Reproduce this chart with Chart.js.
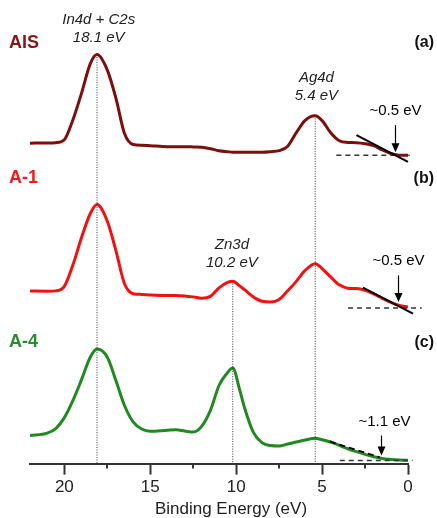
<!DOCTYPE html>
<html>
<head>
<meta charset="utf-8">
<script src="https://cdn.jsdelivr.net/npm/chart.js@4.4.0/dist/chart.umd.min.js"></script>
<style>
body { margin: 0; background: #fff; }
#wrap { width: 437px; height: 518px; position: relative; }
</style>
</head>
<body>
<div id="wrap"><canvas id="ups"></canvas></div>
<script>
// binding energy (eV) at which every curve was read
var energy = [22, 21, 20.5, 20, 19.5, 19, 18.5, 18.1, 17.5, 17, 16.5, 16, 15.5, 15, 14, 13.5, 13, 12.5, 12, 11.5,
    11, 10.5, 10.2, 9.8, 9.5, 9, 8.5, 8, 7.5, 7, 6.5, 6, 5.4, 5, 4.5, 4, 3.5, 3, 2.5, 2, 1.5, 1, 0.5, 0];

// stacked intensities (arb. units, offset curves as plotted)
var ais = [320, 320.2, 320.5, 323.5, 343.5, 370, 399, 408.5, 393, 365, 329.6, 318.7, 318, 317.5, 316.5, 316.5, 316.5, 316.3, 316, 314.5,
    312.5, 311.5, 311, 311, 311, 311, 311, 311.5, 312.5, 317, 330.5, 342.5, 347.3, 342.5, 330.5, 322.5, 320.8, 320.5, 319.5, 317.5, 313.2, 309.7, 308, 308];
var a1 = [172.3, 172.2, 172.5, 177, 198.5, 225.8, 249.3, 258.7, 242, 212.7, 179.6, 169.7, 169, 168.5, 168, 168, 167.5, 166.5, 165.2, 167,
    175.5, 181, 182.2, 177.5, 173.5, 166.5, 162.2, 161.5, 164, 172.6, 182, 192.7, 199.7, 194.8, 186.4, 178.5, 175.2, 174.8, 173, 169.5, 165.1, 161, 158, 156.3];
var a4 = [28, 30.5, 35, 45.9, 63.1, 83.9, 106, 114.4, 106.2, 82.9, 58, 41.7, 34.6, 32.3, 33.3, 33.7, 32.6, 31.5, 37.4, 53.1,
    78, 91, 95.5, 73.9, 55, 31.2, 21, 18, 17.5, 19.6, 21.5, 23.5, 25.3, 23.9, 21.6, 18.2, 14.8, 11.9, 9.2, 6.9, 5.1, 4.2, 3.6, 3.3];

var sampleNames = ['AIS', 'A-1', 'A-4'];
var panelTags = ['(a)', '(b)', '(c)'];
var majorTicks = [0, 5, 10, 15, 20];
var minorTicks = [2.5, 7.5, 12.5, 17.5];

// assigned peaks: dotted guide from the peak top down to the axis
var peakNames = ['In4d + C2s', 'Ag4d', 'Zn3d'];
var peakEnergy = [18.1, 5.4, 10.2];
var peakTop = [408.5, 347.3, 182.2];

// valence band onsets: tangent line, baseline, arrow
var onsetText = ['~0.5 eV', '~0.5 eV', '~1.1 eV'];
var tangentE = [[3.0, 0], [2.62, -0.29], [4.55, 1.65]];
var tangentI = [[328, 301.3], [175.7, 149.7], [22, 6.3]];
var baseE = [[4.17, -0.1], [3.49, -0.8], [3.97, -0.27]];
var baseI = [308, 155.3, 3];
var arrowE = [0.77, 0.58, 1.6];
var arrowTop = [338, 188, 28];
var arrowTip = [311, 161.3, 8];

var colors = ['#7d0e0e', '#f21111', '#1f8a1f'];
var tagColors = ['#861616', '#f01a1a', '#2a8c2a'];
var FONT = 'Arial, "Liberation Sans", sans-serif';

function pts(xs, ys) {
    return xs.map(function (e, i) { return { x: e, y: ys[i] }; });
}

var datasets = [];
[ais, a1, a4].forEach(function (s, i) {
    datasets.push({
        label: sampleNames[i], data: pts(energy, s), borderColor: colors[i], borderWidth: 3,
        pointRadius: 0, cubicInterpolationMode: 'monotone', order: 3
    });
});
peakEnergy.forEach(function (e, i) {
    datasets.push({
        data: [{ x: e, y: peakTop[i] }, { x: e, y: 0 }], borderColor: '#333', borderWidth: 1,
        borderDash: [1, 1.5], pointRadius: 0, order: 1
    });
});
for (var i = 0; i < 3; i++) {
    datasets.push({
        data: pts(tangentE[i], tangentI[i]), borderColor: '#000', borderWidth: 2,
        borderDash: i == 2 ? [6, 4] : [], pointRadius: 0, clip: false, order: 1
    });
    datasets.push({
        data: [{ x: baseE[i][0], y: baseI[i] }, { x: baseE[i][1], y: baseI[i] }], borderColor: '#333',
        borderWidth: 1.5, borderDash: [5, 4], pointRadius: 0, clip: false, order: 1
    });
}

var annotate = {
    id: 'annotate',
    afterDraw: function (chart) {
        var ctx = chart.ctx, x = chart.scales.x, y = chart.scales.y, area = chart.chartArea;
        ctx.save();
        ctx.textAlign = 'center';
        ctx.textBaseline = 'middle';

        // minor ticks
        ctx.strokeStyle = '#333';
        ctx.lineWidth = 2;
        minorTicks.forEach(function (v) {
            var px = Math.round(x.getPixelForValue(v));
            ctx.beginPath();
            ctx.moveTo(px, area.bottom);
            ctx.lineTo(px, area.bottom + 5);
            ctx.stroke();
        });

        // peak labels
        ctx.fillStyle = '#222';
        ctx.font = 'italic 15px ' + FONT;
        var labelE = [18.0, 5.33, 10.25], labelI = [443, 385, 218];
        peakNames.forEach(function (n, i) {
            var px = x.getPixelForValue(labelE[i]), py = y.getPixelForValue(labelI[i]);
            ctx.fillText(n, px, py);
            ctx.fillText(peakEnergy[i].toFixed(1) + ' eV', px, py + 18);
        });

        // onset arrows
        ctx.font = '15px ' + FONT;
        ctx.lineWidth = 1.2;
        ctx.strokeStyle = '#000';
        ctx.fillStyle = '#000';
        arrowE.forEach(function (e, i) {
            var px = Math.round(x.getPixelForValue(e)) + 0.5;
            var top = y.getPixelForValue(arrowTop[i]), tip = y.getPixelForValue(arrowTip[i]);
            ctx.beginPath();
            ctx.moveTo(px, top);
            ctx.lineTo(px, tip - 8);
            ctx.stroke();
            ctx.beginPath();
            ctx.moveTo(px - 4, tip - 9);
            ctx.lineTo(px + 4, tip - 9);
            ctx.lineTo(px, tip);
            ctx.closePath();
            ctx.fill();
            ctx.fillText(onsetText[i], px + (i == 2 ? 3 : 0), top - 14);
        });

        // sample names and panel tags
        var tagI = [420, 285, 121];
        tagI.forEach(function (v, i) {
            var py = y.getPixelForValue(v);
            ctx.font = 'bold 18px ' + FONT;
            ctx.fillStyle = tagColors[i];
            ctx.textAlign = 'left';
            ctx.fillText(sampleNames[i], 9, py);
            ctx.font = 'bold 16px ' + FONT;
            ctx.fillStyle = '#111';
            ctx.textAlign = 'right';
            ctx.fillText(panelTags[i], 434, py);
        });

        // axis title
        ctx.textAlign = 'center';
        ctx.fillStyle = '#222';
        ctx.font = '17px ' + FONT;
        ctx.fillText('Binding Energy (eV)', (area.left + area.right) / 2 + 12, chart.height - 9);
        ctx.restore();
    }
};

new Chart(document.getElementById('ups'), {
    type: 'line',
    data: { datasets: datasets },
    options: {
        responsive: true,
        maintainAspectRatio: false,
        animation: false,
        layout: { padding: { left: 30, right: 29, top: 0, bottom: 17 } },
        plugins: { legend: { display: false }, tooltip: { enabled: false } },
        scales: {
            x: {
                type: 'linear',
                reverse: true,
                min: 0,
                max: 22,
                afterBuildTicks: function (scale) {
                    scale.ticks = majorTicks.map(function (v) { return { value: v }; });
                },
                grid: { drawOnChartArea: false, tickLength: 11, tickWidth: 2, tickColor: '#333' },
                border: { display: true, color: '#333', width: 2 },
                ticks: { font: { size: 17, family: FONT }, color: '#222', padding: 3, maxRotation: 0, autoSkip: false }
            },
            y: { display: false, min: 0, max: 463 }
        }
    },
    plugins: [annotate]
});
</script>
</body>
</html>
